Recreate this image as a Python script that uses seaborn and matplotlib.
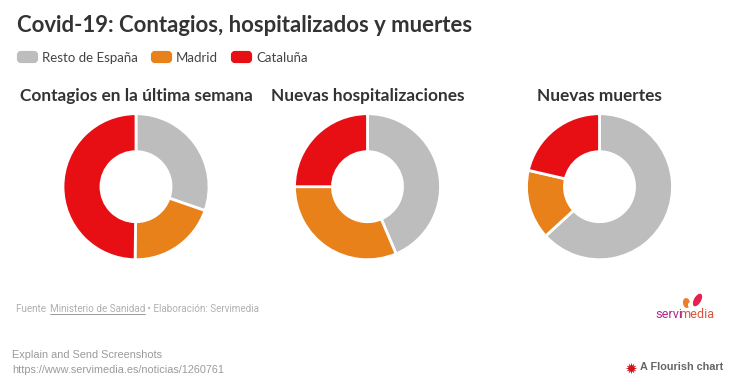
import matplotlib
matplotlib.use('Agg')
import matplotlib.pyplot as plt
import seaborn as sns
from matplotlib.patches import FancyBboxPatch, Ellipse

categorias = ['Resto de España', 'Madrid', 'Cataluña']
titulos = ['Contagios en la última semana', 'Nuevas hospitalizaciones', 'Nuevas muertes']
contagios = [30.3, 19.9, 49.8]
hospitalizaciones = [43.6, 31.4, 25.0]
muertes = [63.2, 15.4, 21.4]
series = [contagios, hospitalizaciones, muertes]
colores = ['#bdbdbd', '#e8811a', '#e70f14']

sns.set_theme(style='white')
plt.rcParams['font.family'] = ['Lato', 'DejaVu Sans']

W, H = 745, 388
fig = plt.figure(figsize=(W / 100, H / 100), dpi=100, facecolor='white')

# capa de fondo en pixeles para textos y leyenda
bg = fig.add_axes([0, 0, 1, 1])
bg.set_xlim(0, W)
bg.set_ylim(H, 0)
bg.axis('off')

oscuro = '#333333'
bg.text(17, 25.5, 'Covid-19: Contagios, hospitalizados y muertes', fontsize=15.9,
        fontweight='bold', color=oscuro, va='center', ha='left')

# leyenda
pal = sns.color_palette(colores)
for nombre, col, xc, xt in zip(categorias, pal, [17, 151, 231], [42, 176, 256]):
    bg.add_patch(FancyBboxPatch((xc + 2, 53), 17, 8, boxstyle='round,pad=0,rounding_size=2',
                                mutation_aspect=1, fc=col, ec=col, lw=3))
    bg.text(xt, 57.5, nombre, fontsize=9.5, color='#444444', va='center', ha='left')

centros = [136, 367.5, 599.5]
cy = 186.7
r = 73
for vals, tit, cx in zip(series, titulos, centros):
    ax = fig.add_axes([(cx - r) / W, (H - cy - r) / H, 2 * r / W, 2 * r / H])
    ax.pie(vals, colors=pal, startangle=90, counterclock=False, radius=1,
           wedgeprops=dict(width=0.52, edgecolor='white', linewidth=2))
    ax.set_xlim(-1, 1)
    ax.set_ylim(-1, 1)
    bg.text(cx, 96, tit, fontsize=12.4, fontweight='bold', color=oscuro, va='center', ha='center')

# fuente
gris = '#b0b0b0'
r_ = fig.canvas.get_renderer()
x = 16
for trozo, sub in [('Fuente ', False), ('Ministerio de Sanidad', True), (' • Elaboración: Servimedia', False)]:
    t = bg.text(x, 309, trozo, fontsize=7.1, color=gris, va='center', ha='left', family='Roboto')
    ext = t.get_window_extent(r_)
    if sub:
        bg.plot([x, x + ext.width], [314, 314], color='#999999', lw=0.7)
    x += ext.width + (1 if trozo.endswith(' ') else 0)

# logo
bg.add_patch(Ellipse((686.5, 303), 7, 10, angle=-10, fc='#ee7d2b', ec='none'))
bg.add_patch(Ellipse((697.5, 300), 7, 14, angle=30, fc='#e6204f', ec='none'))
bg.add_patch(Ellipse((690.5, 305), 5, 6, fc='white', ec='none'))
bg.text(655, 315, 'servi', fontsize=9.2, color='#b5288a', va='center', ha='left', family='Roboto')
bg.text(679.5, 315, 'media', fontsize=9.2, color='#d9553f', va='center', ha='left', family='Roboto')

# captura y pie
bg.text(12, 355, 'Explain and Send Screenshots', fontsize=7.85, color='#9a9a9a', va='center', ha='left',
        family='Liberation Sans')
bg.text(12, 370, 'https://www.servimedia.es/noticias/1260761', fontsize=7.85, color='#9a9a9a', va='center',
        ha='left', family='Liberation Sans')
bg.scatter([631], [367.5], marker=(12, 1, 0), s=70, color='#d0121b', linewidths=0)
bg.text(640, 367, 'A Flourish chart', fontsize=7.85, fontweight='bold', color='#666666', va='center', ha='left',
        family='Liberation Sans')

fig.savefig('out.png', dpi=100)
